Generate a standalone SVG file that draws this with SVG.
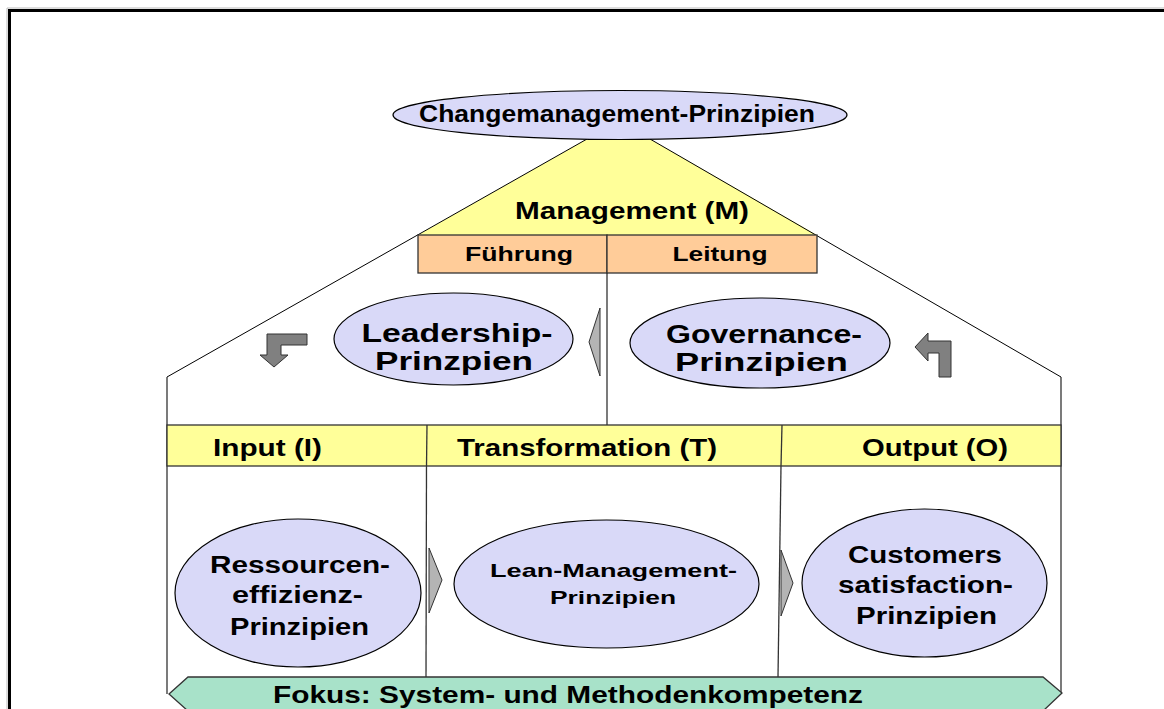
<svg xmlns="http://www.w3.org/2000/svg" width="1164" height="709" viewBox="0 0 1164 709">
<style>
text{font-family:"Liberation Sans",Arial,sans-serif;font-weight:bold;fill:#000;text-anchor:middle}
.ell{fill:#D9D9F8;stroke:#000;stroke-width:1.2}
.ln{stroke:#000;stroke-width:1;fill:none}
.dv{stroke:#333;stroke-width:1.3;fill:none}
.tri{fill:#B4B4B4;stroke:#333;stroke-width:1}
.bent{fill:#808080;stroke:#333;stroke-width:1}
</style>
<rect width="1164" height="709" fill="#fff"/>
<g id="frame">
<path d="M9.5,709 V10.5 H1164" fill="none" stroke="#000" stroke-width="3"/>
<path d="M7,709 V8 H1164" fill="none" stroke="#bbb" stroke-width="1"/>
</g>
<g id="connectors">
<polygon points="587,139 650,139 817,235 418,235" fill="#FFFF99"/>
<line class="ln" x1="587" y1="139" x2="167" y2="377"/>
<line class="ln" x1="650" y1="139" x2="1061" y2="377"/>
<line class="dv" x1="167" y1="377" x2="167" y2="694"/>
<line class="dv" x1="1061" y1="377" x2="1061" y2="693"/>
<line class="dv" x1="607" y1="273" x2="607" y2="425"/>
<line class="dv" x1="426.5" y1="466" x2="426" y2="677"/>
<line class="dv" x1="781" y1="466" x2="778" y2="677"/>
<polygon class="tri" points="589,342 600,308 600,376"/>
<polygon class="tri" points="429,548 442,580 429,613"/>
<polygon class="tri" points="781,550 793,583 781,616"/>
<polygon class="bent" points="307,334 267,334 267,355 260,355 274,367 288,355 281,355 281,345 307,345"/>
<polygon class="bent" points="915,347 928,333 928,341 951,341 951,377 939,377 939,353 928,353 928,361"/>
</g>
<g id="management">
<text x="632" y="219" font-size="23" textLength="234" lengthAdjust="spacingAndGlyphs">Management (M)</text>
</g>
<g id="fuehrung">
<rect x="418" y="235" width="189" height="38" fill="#FFCC99" stroke="#333" stroke-width="1.3"/>
<text x="519" y="261" font-size="21" textLength="108" lengthAdjust="spacingAndGlyphs">Führung</text>
</g>
<g id="leitung">
<rect x="607" y="235" width="210" height="38" fill="#FFCC99" stroke="#333" stroke-width="1.3"/>
<text x="720" y="261" font-size="21" textLength="95" lengthAdjust="spacingAndGlyphs">Leitung</text>
</g>
<g id="changemanagement">
<ellipse class="ell" cx="620" cy="115" rx="227" ry="24.5"/>
<text x="617" y="122" font-size="24" textLength="396" lengthAdjust="spacingAndGlyphs">Changemanagement-Prinzipien</text>
</g>
<g id="leadership">
<ellipse class="ell" cx="453.5" cy="339" rx="119.5" ry="46"/>
<text x="457" y="342" font-size="26" textLength="191" lengthAdjust="spacingAndGlyphs">Leadership-</text>
<text x="454" y="370" font-size="26" textLength="158" lengthAdjust="spacingAndGlyphs">Prinzpien</text>
</g>
<g id="governance">
<ellipse class="ell" cx="760" cy="343" rx="130" ry="45"/>
<text x="764" y="343" font-size="26" textLength="196" lengthAdjust="spacingAndGlyphs">Governance-</text>
<text x="761.5" y="371" font-size="26" textLength="173" lengthAdjust="spacingAndGlyphs">Prinzipien</text>
</g>
<g id="header">
<rect x="167" y="425" width="894" height="41" fill="#FFFF99" stroke="#333" stroke-width="1.3"/>
<line class="dv" x1="427" y1="425" x2="426.5" y2="466"/>
<line class="dv" x1="782" y1="425" x2="781" y2="466"/>
<text x="267.5" y="456" font-size="24" textLength="109" lengthAdjust="spacingAndGlyphs">Input (I)</text>
<text x="587" y="456" font-size="24" textLength="260" lengthAdjust="spacingAndGlyphs">Transformation (T)</text>
<text x="935" y="456" font-size="24" textLength="146" lengthAdjust="spacingAndGlyphs">Output (O)</text>
</g>
<g id="ressourcen">
<ellipse class="ell" cx="298" cy="593" rx="123" ry="74"/>
<text x="300" y="573" font-size="23" textLength="180" lengthAdjust="spacingAndGlyphs">Ressourcen-</text>
<text x="297.5" y="603" font-size="23" textLength="131" lengthAdjust="spacingAndGlyphs">effizienz-</text>
<text x="299.5" y="635" font-size="23" textLength="139" lengthAdjust="spacingAndGlyphs">Prinzipien</text>
</g>
<g id="lean">
<ellipse class="ell" cx="606.5" cy="584" rx="152.5" ry="64"/>
<text x="613.5" y="577" font-size="19" textLength="247" lengthAdjust="spacingAndGlyphs">Lean-Management-</text>
<text x="613" y="604" font-size="19" textLength="126" lengthAdjust="spacingAndGlyphs">Prinzipien</text>
</g>
<g id="customers">
<ellipse class="ell" cx="924.5" cy="583" rx="122.5" ry="74"/>
<text x="925" y="563" font-size="24" textLength="154" lengthAdjust="spacingAndGlyphs">Customers</text>
<text x="925.5" y="593" font-size="24" textLength="175" lengthAdjust="spacingAndGlyphs">satisfaction-</text>
<text x="926.5" y="624" font-size="24" textLength="141" lengthAdjust="spacingAndGlyphs">Prinzipien</text>
</g>
<g id="fokus">
<polygon points="169,694 188,677 1043,677 1062,693 1043,711 188,711" fill="#A8E2C9" stroke="#333" stroke-width="1.3"/>
<text x="568" y="703" font-size="24" textLength="590" lengthAdjust="spacingAndGlyphs">Fokus: System- und Methodenkompetenz</text>
</g>
</svg>
